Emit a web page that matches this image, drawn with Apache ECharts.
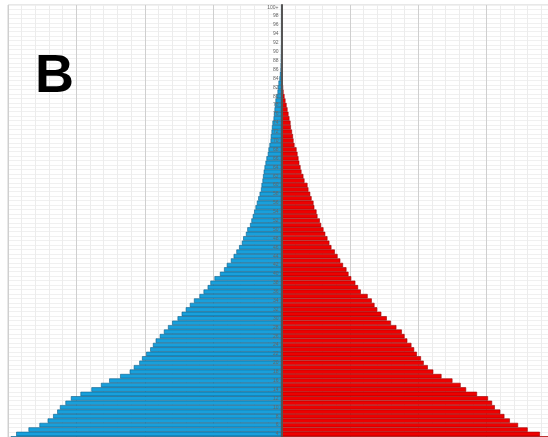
<!DOCTYPE html>
<html>
<head>
<meta charset="utf-8">
<script src="https://cdn.jsdelivr.net/npm/echarts@6/dist/echarts.min.js"></script>
<style>
    html, body { margin: 0; padding: 0; background: #fff; }
    #pyramid { width: 548px; height: 437px; }
</style>
</head>
<body>
<div id="pyramid"></div>
<script>
// ages 0 .. 100+, bottom to top
const ageLabels = []
for (let a = 0; a < 100; a++) {
    ageLabels.push(String(a))
}
ageLabels.push('100+')

// share of population per single year of age (%)
const maleValues = [
    2.00, 1.99, 1.99, 1.98, 1.94, 1.85, 1.77, 1.71, 1.67, 1.64,
    1.62, 1.58, 1.54, 1.47, 1.39, 1.32, 1.26, 1.18, 1.11, 1.08,
    1.04, 1.02, 0.99, 0.96, 0.94, 0.92, 0.89, 0.86, 0.83, 0.80,
    0.76, 0.73, 0.70, 0.67, 0.64, 0.60, 0.57, 0.54, 0.52, 0.49,
    0.45, 0.42, 0.40, 0.37, 0.35, 0.33, 0.31, 0.29, 0.28, 0.26,
    0.25, 0.23, 0.22, 0.21, 0.20, 0.19, 0.18, 0.17, 0.16, 0.15,
    0.146, 0.139, 0.135, 0.13, 0.124, 0.117, 0.11, 0.10, 0.095, 0.088,
    0.08, 0.078, 0.073, 0.07, 0.066, 0.058, 0.055, 0.051, 0.048, 0.044,
    0.037, 0.029, 0.026, 0.022, 0.015, 0.011, 0.007, 0.006, 0.004, 0.003,
    0.002, 0.002, 0.001, 0.001, 0.001, 0.001, 0.001, 0.001, 0.001, 0.001,
    0.001
]
const femaleValues = [
    2.01, 2.00, 2.00, 1.97, 1.89, 1.80, 1.73, 1.67, 1.63, 1.60,
    1.56, 1.54, 1.51, 1.43, 1.35, 1.31, 1.25, 1.17, 1.11, 1.07,
    1.04, 1.02, 0.99, 0.97, 0.95, 0.92, 0.90, 0.88, 0.84, 0.80,
    0.77, 0.73, 0.70, 0.68, 0.66, 0.63, 0.58, 0.56, 0.54, 0.51,
    0.49, 0.475, 0.45, 0.43, 0.41, 0.39, 0.365, 0.35, 0.336, 0.32,
    0.307, 0.29, 0.28, 0.263, 0.256, 0.24, 0.234, 0.22, 0.21, 0.197,
    0.19, 0.168, 0.16, 0.146, 0.139, 0.13, 0.124, 0.117, 0.11, 0.095,
    0.088, 0.084, 0.077, 0.069, 0.066, 0.058, 0.051, 0.044, 0.037, 0.029,
    0.022, 0.015, 0.012, 0.009, 0.006, 0.004, 0.003, 0.002, 0.002, 0.001,
    0.001, 0.001, 0.001, 0.001, 0.001, 0.001, 0.001, 0.001, 0.001, 0.001,
    0.001
]

const chart = echarts.init(document.getElementById('pyramid'))

const labelFont = 'Liberation Sans, Arial, sans-serif'
const gridLeft = 8
const gridWidth = 547

const option = {
    animation: false,
    backgroundColor: '#fff',
    graphic: [
        {
            type: 'text',
            left: 35,
            top: 50,
            z: 20,
            style: {
                text: 'B',
                fontFamily: labelFont,
                fontSize: 54,
                fontWeight: 'bold',
                fill: '#000'
            }
        }
    ],
    grid: {
        left: gridLeft,
        top: 5,
        width: gridWidth,
        height: 449,
        outerBoundsMode: 'none', // the picture is cropped at the right and bottom
        show: true,
        borderColor: '#d0d0d0',
        borderWidth: 1
    },
    xAxis: {
        type: 'value',
        min: -2,
        max: 2,
        interval: 0.5,
        axisLine: { show: false },
        axisTick: { show: false },
        axisLabel: { show: false },
        splitLine: {
            show: true,
            lineStyle: { color: '#cfcfcf', width: 1 }
        },
        minorTick: { show: false, splitNumber: 5 },
        minorSplitLine: {
            show: true,
            lineStyle: { color: '#ececec', width: 1 }
        }
    },
    yAxis: [
        // row lines, drawn under the bars
        {
            type: 'category',
            data: ageLabels,
            axisLine: { show: false },
            axisTick: { show: false },
            axisLabel: { show: false },
            splitLine: {
                show: true,
                interval: 0,
                lineStyle: { color: '#f0f0f0', width: 1 }
            }
        },
        // centre line and age labels, drawn over the bars
        {
            type: 'category',
            data: ageLabels,
            z: 10,
            position: 'left',
            offset: -gridWidth / 2,
            axisLine: {
                show: true,
                onZero: false,
                lineStyle: { color: '#555', width: 2 }
            },
            axisTick: { show: false },
            axisLabel: {
                interval: 1,
                fontSize: 5,
                margin: 3,
                color: '#666',
                fontFamily: labelFont
            },
            splitLine: { show: false }
        }
    ],
    series: [
        {
            name: 'male',
            type: 'bar',
            stack: 'pop',
            barCategoryGap: '0%',
            data: maleValues.map(v => -v),
            itemStyle: {
                color: '#18a0dc',
                borderColor: '#0b5d86',
                borderWidth: 0.6
            }
        },
        {
            name: 'female',
            type: 'bar',
            stack: 'pop',
            barCategoryGap: '0%',
            data: femaleValues,
            itemStyle: {
                color: '#ee0000',
                borderColor: '#9a0000',
                borderWidth: 0.6
            }
        }
    ]
}

chart.setOption(option)
</script>
</body>
</html>
